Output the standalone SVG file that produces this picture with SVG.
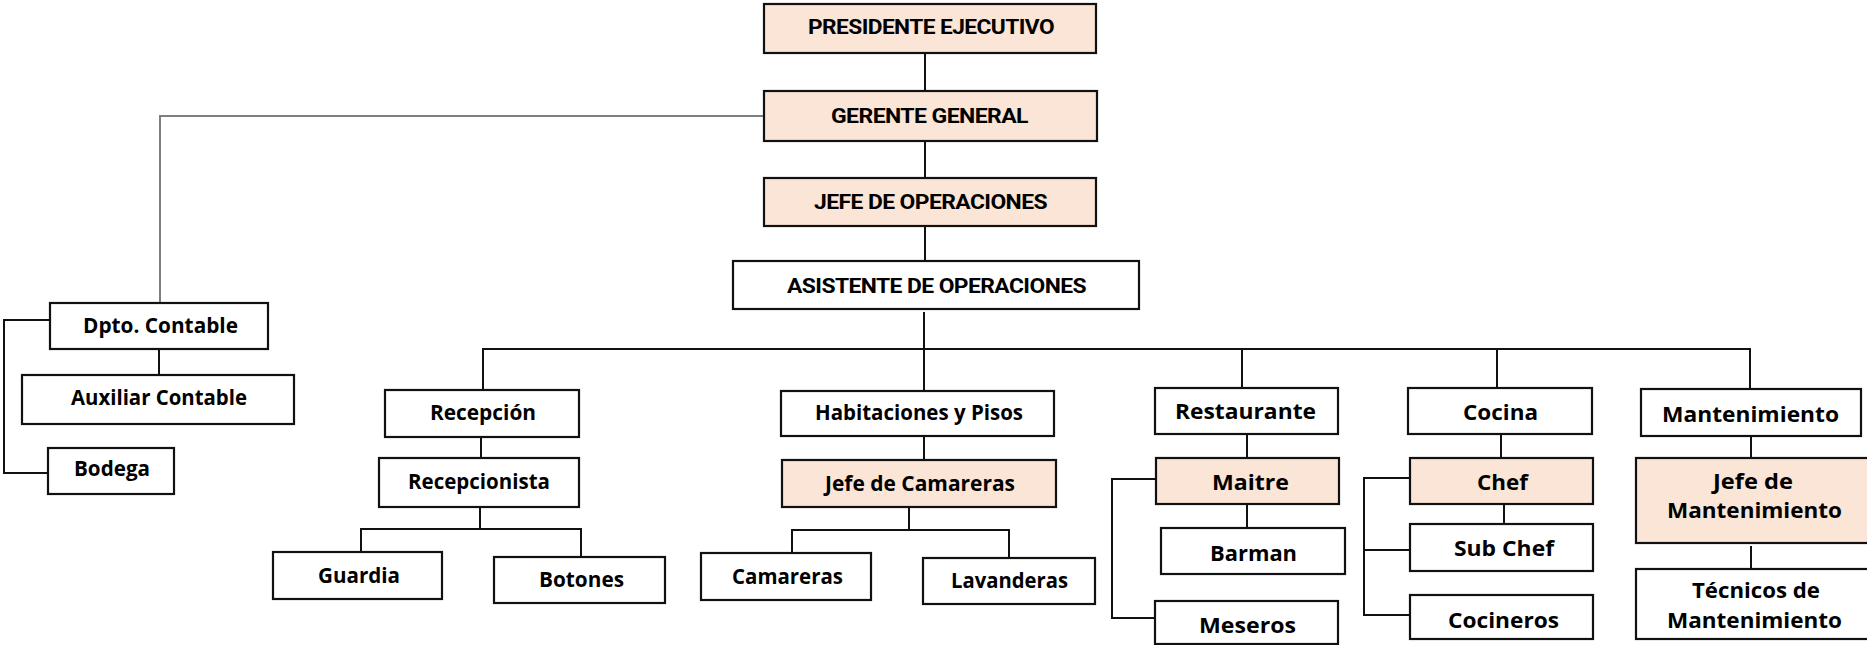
<svg xmlns="http://www.w3.org/2000/svg" width="1867" height="645" viewBox="0 0 1867 645">
<style>
.box{fill:#ffffff;stroke:#111;stroke-width:2.2}
.peach{fill:#fbe5d6;stroke:#111;stroke-width:2.2}
.t{font-family:"Open Sans","Lato","Liberation Sans",sans-serif;font-weight:700;font-size:21px;fill:#000;text-anchor:middle}
.c{font-family:"Roboto","Liberation Sans",sans-serif;font-weight:700;font-size:20px;fill:#000;text-anchor:middle;letter-spacing:-0.5px}
.ln{fill:none;stroke:#111;stroke-width:2}
.gl{fill:none;stroke:#7f7f7f;stroke-width:2}
</style>
<rect width="1867" height="645" fill="#ffffff"/>
<g id="connectors">
<path class="ln" d="M925,53 V91 M925,141 V178 M925,226 V261"/>
<path class="gl" d="M764,116 H160 V303"/>
<path class="ln" d="M159,349 V375"/>
<path class="ln" d="M50,320 H4 V473 H48"/>
<path class="ln" d="M924,312 V391 M483,390 V349 H1750 V389 M1242,349 V388 M1497,349 V388"/>
<path class="ln" d="M481,437 V458 M480,507 V529 M361,552 V529 H581 V557"/>
<path class="ln" d="M924,436 V460 M909,507 V530 M792,553 V530 H1009 V558"/>
<path class="ln" d="M1247,434 V458 M1247,504 V528 M1156,479 H1112 V618 H1155"/>
<path class="ln" d="M1501,434 V458 M1504,504 V524 M1410,478 H1364 V615 H1410 M1364,550 H1410"/>
<path class="ln" d="M1751,436 V458 M1751,546 V568"/>
</g>
<g id="presidente"><rect class="peach" x="764" y="4" width="332" height="49"/><text class="c" x="931" y="34" textLength="246" lengthAdjust="spacingAndGlyphs">PRESIDENTE EJECUTIVO</text></g>
<g id="gerente"><rect class="peach" x="764" y="91" width="333" height="50"/><text class="c" x="929.5" y="123" textLength="197" lengthAdjust="spacingAndGlyphs">GERENTE GENERAL</text></g>
<g id="jefe-operaciones"><rect class="peach" x="764" y="178" width="332" height="48"/><text class="c" x="930.5" y="209" textLength="233" lengthAdjust="spacingAndGlyphs">JEFE DE OPERACIONES</text></g>
<g id="asistente"><rect class="box" x="733" y="261" width="406" height="48"/><text class="c" x="936.5" y="293" textLength="299" lengthAdjust="spacingAndGlyphs">ASISTENTE DE OPERACIONES</text></g>
<g id="dpto-contable"><rect class="box" x="50" y="303" width="218" height="46"/><text class="t" x="160.5" y="333" textLength="155" lengthAdjust="spacingAndGlyphs">Dpto. Contable</text></g>
<g id="auxiliar-contable"><rect class="box" x="22" y="375" width="272" height="49"/><text class="t" x="159" y="405" textLength="176" lengthAdjust="spacingAndGlyphs">Auxiliar Contable</text></g>
<g id="bodega"><rect class="box" x="48" y="448" width="126" height="46"/><text class="t" x="112" y="476" textLength="76" lengthAdjust="spacingAndGlyphs">Bodega</text></g>
<g id="recepcion"><rect class="box" x="385" y="390" width="194" height="47"/><text class="t" x="483" y="420" textLength="106" lengthAdjust="spacingAndGlyphs">Recepción</text></g>
<g id="recepcionista"><rect class="box" x="379" y="458" width="200" height="49"/><text class="t" x="479" y="489" textLength="142" lengthAdjust="spacingAndGlyphs">Recepcionista</text></g>
<g id="guardia"><rect class="box" x="273" y="552" width="169" height="47"/><text class="t" x="359" y="583" textLength="82" lengthAdjust="spacingAndGlyphs">Guardia</text></g>
<g id="botones"><rect class="box" x="494" y="557" width="171" height="46"/><text class="t" x="581.5" y="587" textLength="85" lengthAdjust="spacingAndGlyphs">Botones</text></g>
<g id="habitaciones"><rect class="box" x="781" y="391" width="273" height="45"/><text class="t" x="919" y="420" textLength="208" lengthAdjust="spacingAndGlyphs">Habitaciones y Pisos</text></g>
<g id="jefe-camareras"><rect class="peach" x="782" y="460" width="274" height="47"/><text class="t" x="920" y="491" textLength="190" lengthAdjust="spacingAndGlyphs">Jefe de Camareras</text></g>
<g id="camareras"><rect class="box" x="701" y="553" width="170" height="47"/><text class="t" x="787.5" y="584" textLength="111" lengthAdjust="spacingAndGlyphs">Camareras</text></g>
<g id="lavanderas"><rect class="box" x="923" y="558" width="172" height="46"/><text class="t" x="1009.5" y="588" textLength="117" lengthAdjust="spacingAndGlyphs">Lavanderas</text></g>
<g id="restaurante"><rect class="box" x="1155" y="388" width="183" height="46"/><text class="t" x="1245.5" y="419" textLength="141" lengthAdjust="spacingAndGlyphs">Restaurante</text></g>
<g id="maitre"><rect class="peach" x="1156" y="458" width="183" height="46"/><text class="t" x="1250.5" y="490" textLength="77" lengthAdjust="spacingAndGlyphs">Maitre</text></g>
<g id="barman"><rect class="box" x="1161" y="528" width="184" height="46"/><text class="t" x="1253.5" y="561" textLength="87" lengthAdjust="spacingAndGlyphs">Barman</text></g>
<g id="meseros"><rect class="box" x="1155" y="601" width="183" height="43"/><text class="t" x="1247.5" y="633" textLength="97" lengthAdjust="spacingAndGlyphs">Meseros</text></g>
<g id="cocina"><rect class="box" x="1408" y="388" width="184" height="46"/><text class="t" x="1500.5" y="420" textLength="75" lengthAdjust="spacingAndGlyphs">Cocina</text></g>
<g id="chef"><rect class="peach" x="1410" y="458" width="183" height="46"/><text class="t" x="1502.5" y="490" textLength="51" lengthAdjust="spacingAndGlyphs">Chef</text></g>
<g id="sub-chef"><rect class="box" x="1410" y="524" width="183" height="47"/><text class="t" x="1504" y="556" textLength="100" lengthAdjust="spacingAndGlyphs">Sub Chef</text></g>
<g id="cocineros"><rect class="box" x="1410" y="595" width="183" height="44"/><text class="t" x="1503.5" y="628" textLength="111" lengthAdjust="spacingAndGlyphs">Cocineros</text></g>
<g id="mantenimiento"><rect class="box" x="1641" y="389" width="220" height="47"/><text class="t" x="1750.5" y="422" textLength="177" lengthAdjust="spacingAndGlyphs">Mantenimiento</text></g>
<g id="jefe-mantenimiento"><rect class="peach" x="1636" y="458" width="233" height="85"/><text class="t" x="1753" y="489" textLength="80" lengthAdjust="spacingAndGlyphs">Jefe de</text><text class="t" x="1754.5" y="518" textLength="175" lengthAdjust="spacingAndGlyphs">Mantenimiento</text></g>
<g id="tecnicos"><rect class="box" x="1636" y="569" width="233" height="70"/><text class="t" x="1756" y="598" textLength="128" lengthAdjust="spacingAndGlyphs">Técnicos de</text><text class="t" x="1754.5" y="628" textLength="175" lengthAdjust="spacingAndGlyphs">Mantenimiento</text></g>
</svg>
